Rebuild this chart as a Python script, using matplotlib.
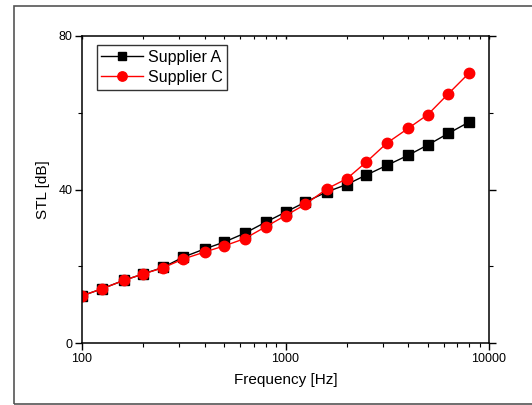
import matplotlib
matplotlib.use("Agg")
import matplotlib.pyplot as plt
from matplotlib.patches import Rectangle
from matplotlib.ticker import FixedLocator, NullFormatter

plt.rcParams['font.family'] = ['Liberation Sans', 'DejaVu Sans']

# 1/3 octave band centre frequencies
freq = [100, 125, 160, 200, 250, 315, 400, 500, 630, 800,
        1000, 1250, 1600, 2000, 2500, 3150, 4000, 5000, 6300, 8000]
stl_a = [12.3, 14.1, 16.3, 18.0, 19.7, 22.4, 24.5, 26.3, 28.6, 31.5,
         34.1, 36.7, 39.4, 41.3, 43.8, 46.3, 48.9, 51.6, 54.6, 57.6]
stl_c = [12.3, 14.1, 16.3, 18.0, 19.6, 21.9, 23.7, 25.3, 27.2, 30.3,
         33.2, 36.1, 40.2, 42.8, 47.2, 52.1, 55.9, 59.5, 64.9, 70.4]

W, H = 532, 405
fig = plt.figure(figsize=(W / 100, H / 100), dpi=100)

# outer frame (right edge lies just off the image)
fig.patches.append(Rectangle((14 / W, 1 - 404 / H), (540 - 14) / W, (404 - 5.5) / H,
                             transform=fig.transFigure, fill=False,
                             edgecolor='#555555', linewidth=1.2))

ax = fig.add_axes([82 / W, 1 - 343 / H, (489 - 82) / W, (343 - 36) / H])

ax.plot(freq, stl_a, color='black', lw=1, marker='s', ms=6.5, label='Supplier A')
ax.plot(freq, stl_c, color='red', lw=1, marker='o', ms=7.5, label='Supplier C')

ax.set_xscale('log')
ax.set_xlim(100, 10000)
ax.set_ylim(0, 80)
ax.yaxis.set_major_locator(FixedLocator([0, 40, 80]))
ax.yaxis.set_minor_locator(FixedLocator([20, 60]))
ax.xaxis.set_major_locator(FixedLocator([100, 1000, 10000]))
ax.set_xticklabels(['100', '1000', '10000'])
ax.xaxis.set_minor_formatter(NullFormatter())

for s in ax.spines.values():
    s.set_linewidth(1.1)

ax.tick_params(axis='both', which='major', direction='out', length=5, width=1,
               labelsize=9, pad=2)
ax.tick_params(axis='both', which='minor', direction='out', length=3, width=0.8)
ax.tick_params(axis='y', which='both', right=True)
# top ticks are faint and point inward in the original
ax.tick_params(axis='x', which='both', top=True)
for t in ax.xaxis.get_major_ticks() + ax.xaxis.get_minor_ticks():
    t.tick2line.set_marker(3)
    t.tick2line.set_markersize(2)
    t.tick2line.set_color('#cccccc')

ax.set_xlabel('Frequency [Hz]', fontsize=11, labelpad=6)
ax.set_ylabel('STL [dB]', fontsize=11, labelpad=6)

leg = ax.legend(loc='upper left', bbox_to_anchor=(0.036, 0.97), fontsize=11.5,
                frameon=True, fancybox=False, edgecolor='black',
                handlelength=2.6, handletextpad=0.3, borderpad=0.3,
                labelspacing=0.3, borderaxespad=0, markerscale=0.9)
leg.get_frame().set_linewidth(1)

fig.savefig('out.png', dpi=100)
